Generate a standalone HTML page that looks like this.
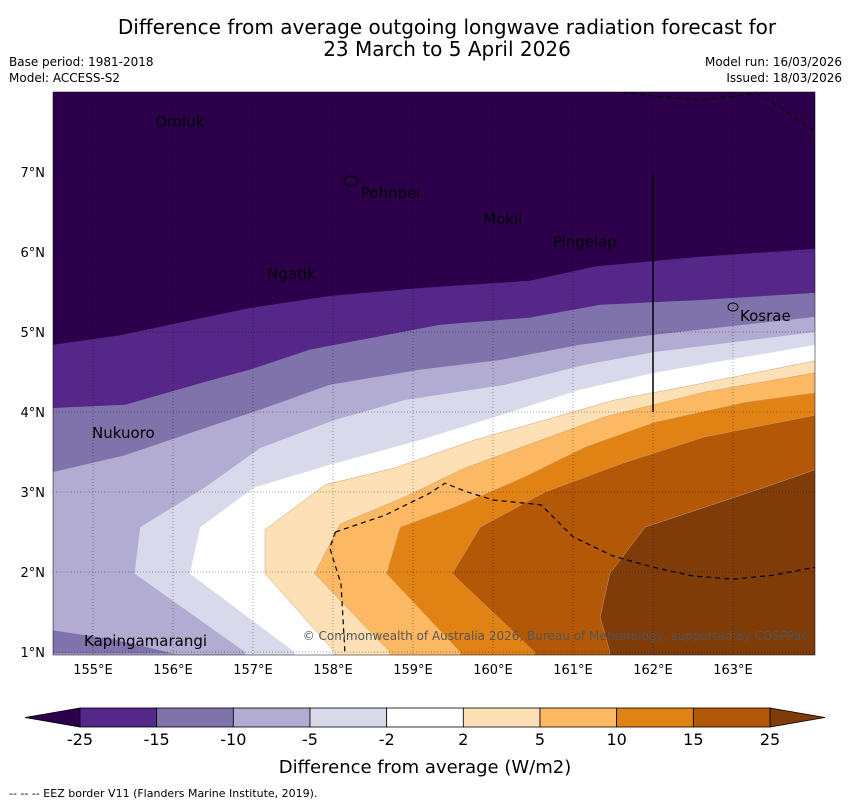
<!DOCTYPE html>
<html><head><meta charset="utf-8">
<style>
body{margin:0;background:#fff;font-family:"Liberation Sans",sans-serif;}
svg text{font-family:"DejaVu Sans","Liberation Sans",sans-serif;}
</style></head>
<body>
<svg id="c" width="850" height="804" xmlns="http://www.w3.org/2000/svg">
<text x="447" y="34" font-size="20" text-anchor="middle">Difference from average outgoing longwave radiation forecast for</text>
<text x="447" y="56" font-size="20" text-anchor="middle">23 March to 5 April 2026</text>
<text x="9" y="66" font-size="12">Base period: 1981-2018</text>
<text x="9" y="82" font-size="12">Model: ACCESS-S2</text>
<text x="842" y="66" font-size="12" text-anchor="end">Model run: 16/03/2026</text>
<text x="842" y="82" font-size="12" text-anchor="end">Issued: 18/03/2026</text>
<defs><clipPath id="mc"><rect x="53" y="92" width="762" height="563"/></clipPath></defs>
<g id="map" clip-path="url(#mc)"></g>
<g id="ax"></g>
<g id="cb"></g>
<text x="425" y="773" font-size="18" text-anchor="middle">Difference from average (W/m2)</text>
<text x="9" y="797" font-size="11">--  --  -- EEZ border V11 (Flanders Marine Institute, 2019).</text>
</svg>
<script>
const levels=[-25,-15,-10,-5,-2,2,5,10,15,25];
const colors=["#2d004b","#542788","#8073ac","#b2abd2","#d8daeb","#ffffff","#fee0b6","#fdb863","#e08214","#b35806","#7f3b08"];
const lonTicks=[155,156,157,158,159,160,161,162,163];
const latTicks=[1,2,3,4,5,6,7];
const bM25=[[154.5,4.84],[155.34,4.96],[156.96,5.3],[157.96,5.45],[159.09,5.55],[160.46,5.64],[161.28,5.82],[162.59,5.94],[164.03,6.04]];
const bM15=[[154.5,4.05],[155.4,4.09],[156.34,4.36],[156.96,4.53],[157.71,4.78],[158.34,4.9],[159.34,5.09],[160.46,5.18],[161.34,5.34],[162.59,5.4],[164.03,5.49]];
const bM10=[[154.5,3.25],[155.4,3.46],[156.34,3.78],[157.09,4.03],[157.96,4.34],[159.09,4.53],[160.09,4.65],[161.09,4.84],[161.96,4.96],[164.03,5.19]];
const bM5=[[156.9,0.9],[156.9,1.0],[155.52,1.98],[155.59,2.56],[156.4,3.06],[157.09,3.55],[158.02,3.9],[158.9,4.15],[160.15,4.34],[161.15,4.59],[162.02,4.75],[164.03,5.0]];
const bM2=[[157.52,0.9],[157.52,1.0],[156.21,1.98],[156.34,2.56],[157.02,3.06],[157.96,3.34],[159.09,3.65],[160.09,3.96],[161.09,4.28],[162.02,4.49],[164.03,4.84]];
const bP2=[[158.02,0.9],[158.02,1.0],[157.15,1.98],[157.15,2.53],[157.9,3.09],[158.77,3.3],[159.77,3.65],[160.65,3.9],[161.52,4.15],[162.52,4.34],[164.03,4.64]];
const bP5=[[158.71,0.9],[158.71,1.0],[157.77,1.98],[158.09,2.6],[158.9,2.94],[159.65,3.3],[160.52,3.62],[161.4,3.94],[162.65,4.25],[164.03,4.49]];
const bP10=[[159.59,0.9],[159.59,1.0],[158.67,1.98],[158.84,2.56],[159.52,2.81],[160.4,3.19],[161.15,3.56],[162.02,3.87],[163.15,4.12],[164.03,4.24]];
const bP15=[[160.52,0.9],[160.52,1.0],[159.49,1.98],[159.84,2.56],[160.65,3.0],[161.65,3.37],[162.65,3.69],[164.03,3.96]];
const bP25=[[161.46,0.9],[161.46,1.0],[161.34,1.44],[161.46,1.98],[161.9,2.56],[162.65,2.81],[163.4,3.06],[164.03,3.28]];
const bounds=[bM25,bM15,bM10,bM5,bM2,bP2,bP5,bP10,bP15,bP25];
const eez1=[[158.03,2.5],[158.65,2.71],[159.2,2.98],[159.4,3.11],[159.65,3.01],[160.0,2.9],[160.6,2.84],[161.0,2.44],[161.5,2.2],[162.0,2.06],[162.5,1.95],[163.0,1.91],[163.5,1.96],[164.03,2.06]];
const eez2=[[158.03,2.5],[157.96,2.3],[158.1,1.85],[158.15,0.98]];
const eez3=[[161.5,8.01],[162.0,7.95],[162.6,7.9],[163.3,7.98],[163.6,7.8],[164.03,7.5]];
const places=["Oroluk","Pohnpei","Mokil","Pingelap","Ngatik","Kosrae","Nukuoro","Kapingamarangi"];
const placeLon=[155.74,158.31,159.84,160.71,157.14,163.05,154.95,154.85];
const placeLat=[7.625,6.74,6.41,6.125,5.725,5.2,3.74,1.14];
const cbLabels=["-25","-15","-10","-5","-2","2","5","10","15","25"];

const X=lon=>53+(lon-154.5)*80, Y=lat=>92+(8-lat)*80;
const NS="http://www.w3.org/2000/svg";
function mk(t,a,p){const e=document.createElementNS(NS,t);for(const k in a)e.setAttribute(k,a[k]);p.appendChild(e);return e;}
const map=document.getElementById('map'),ax=document.getElementById('ax'),cb=document.getElementById('cb');
const bg=mk('rect',{x:53,y:92,width:762,height:563,fill:colors[0]},map);


bounds.forEach((b,i)=>{
  let d='M'+b.map(p=>X(p[0]).toFixed(1)+','+Y(p[1]).toFixed(1)).join('L');
  d+='L'+X(164.2)+','+Y(b[b.length-1][1])+'L'+X(164.2)+','+Y(0.5)+'L'+X(b[0][0]-2)+','+Y(0.5)+'L'+X(b[0][0]-2)+','+Y(b[0][1])+'Z';
  if(i<3){d='M'+X(154.3)+','+Y(b[0][1])+'L'+b.map(p=>X(p[0]).toFixed(1)+','+Y(p[1]).toFixed(1)).join('L')+'L'+X(164.2)+','+Y(b[b.length-1][1])+'L'+X(164.2)+','+Y(0.5)+'L'+X(154.3)+','+Y(0.5)+'Z';}
  const e=mk('path',{d:d,fill:colors[i+1],stroke:i>=5?'#c9a070':'none','stroke-width':0.5},map);
  
  
});
const pt=mk('path',{d:`M${X(154.5)},${Y(1.27)}L${X(155.3)},${Y(1.15)}L${X(156.0)},${Y(0.98)}L${X(154.5)},${Y(0.98)}Z`,fill:colors[2]},map);


lonTicks.forEach(l=>{const e=mk('line',{x1:X(l),x2:X(l),y1:92,y2:655,stroke:'#000','stroke-width':0.5,'stroke-dasharray':'1,2',opacity:0.7},map);
});
latTicks.forEach(l=>{const e=mk('line',{x1:53,x2:815,y1:Y(l),y2:Y(l),stroke:'#000','stroke-width':0.5,'stroke-dasharray':'1,2',opacity:0.7},map);
});
[eez1,eez2,eez3].forEach(b=>{const e=mk('path',{d:'M'+b.map(p=>X(p[0])+','+Y(p[1])).join('L'),fill:'none',stroke:'#000','stroke-width':1.2,'stroke-dasharray':'5,4'},map);
});
const vl=mk('line',{x1:X(162),x2:X(162),y1:Y(7),y2:Y(4),stroke:'#000','stroke-width':1.5},map);

const isl=mk('ellipse',{cx:351,cy:181,rx:7,ry:5,fill:'none',stroke:'#000','stroke-width':1.2},map);

const isl2=mk('ellipse',{cx:733,cy:307,rx:5,ry:4,fill:'none',stroke:'#000','stroke-width':1},map);

places.forEach((p,i)=>{const t=mk('text',{x:X(placeLon[i])+3,y:Y(placeLat[i])+5,'font-size':15},map);t.textContent=p;
});
const cp=mk('text',{x:808,y:640,'font-size':12,'text-anchor':'end',fill:'#555'},map);cp.textContent='© Commonwealth of Australia 2026, Bureau of Meteorology, supported by COSPPac';

const fr=mk('rect',{x:53,y:92,width:762,height:563,fill:'none',stroke:'#000','stroke-width':0.5},ax);

lonTicks.forEach(l=>{const t=mk('text',{x:X(l),y:674,'font-size':13,'text-anchor':'middle'},ax);t.textContent=l+'°E';
});
latTicks.forEach(l=>{const t=mk('text',{x:45,y:Y(l)+5,'font-size':13,'text-anchor':'end'},ax);t.textContent=l+'°N';
});
const cx0=80,cx1=770,cy=708,ch=19,w=(cx1-cx0)/(levels.length-1);
const lt=mk('path',{d:`M${cx0},${cy}L25,${cy+ch/2}L${cx0},${cy+ch}Z`,fill:colors[0],stroke:'#000','stroke-width':0.8},cb);

const rt=mk('path',{d:`M${cx1},${cy}L825,${cy+ch/2}L${cx1},${cy+ch}Z`,fill:colors[10],stroke:'#000','stroke-width':0.8},cb);

for(let i=0;i<levels.length-1;i++){const r=mk('rect',{x:cx0+i*w,y:cy,width:w,height:ch,fill:colors[i+1],stroke:'#000','stroke-width':0.8},cb);
}
cbLabels.forEach((s,i)=>{const t=mk('text',{x:cx0+i*w,y:745,'font-size':16,'text-anchor':'middle'},cb);t.textContent=s;
});
</script>
</body></html>
